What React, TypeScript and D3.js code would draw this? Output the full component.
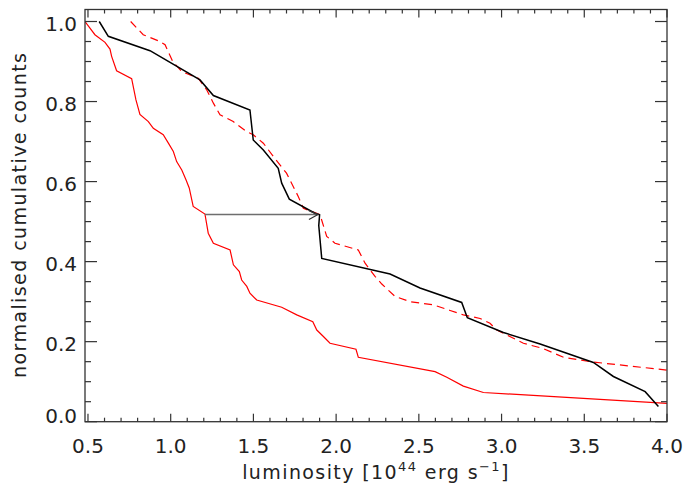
import React, { useEffect, useRef } from 'react'
import * as d3 from 'd3'

// [luminosity, normalised cumulative count]
const redSolid: [number, number][] = [
    [0.482, 1.0], [0.542, 0.967], [0.603, 0.948], [0.633, 0.931], [0.643, 0.913],
    [0.673, 0.877], [0.764, 0.857], [0.79, 0.804], [0.814, 0.768], [0.865, 0.75],
    [0.895, 0.733], [0.955, 0.717], [0.986, 0.696], [1.016, 0.675], [1.036, 0.65],
    [1.067, 0.629], [1.093, 0.604], [1.112, 0.584], [1.136, 0.538], [1.207, 0.519],
    [1.227, 0.471], [1.258, 0.446], [1.359, 0.429], [1.379, 0.392], [1.415, 0.375],
    [1.429, 0.354], [1.46, 0.338], [1.479, 0.321], [1.52, 0.304], [1.671, 0.286],
    [1.762, 0.267], [1.859, 0.25], [1.883, 0.229], [1.923, 0.213], [1.963, 0.196],
    [2.12, 0.181], [2.134, 0.161], [2.598, 0.125], [2.669, 0.111], [2.769, 0.089],
    [2.89, 0.073], [4.0, 0.046]
]

const redDashed: [number, number][] = [
    [0.758, 1.0], [0.834, 0.967], [0.935, 0.95], [0.966, 0.942], [1.012, 0.9],
    [1.067, 0.875], [1.167, 0.858], [1.218, 0.829], [1.258, 0.796], [1.298, 0.767],
    [1.378, 0.75], [1.459, 0.725], [1.499, 0.717], [1.56, 0.696], [1.62, 0.663],
    [1.7, 0.621], [1.771, 0.563], [1.802, 0.533], [1.883, 0.521], [1.903, 0.517],
    [1.943, 0.463], [1.993, 0.446], [2.134, 0.429], [2.175, 0.396], [2.235, 0.363],
    [2.276, 0.344], [2.356, 0.313], [2.447, 0.3], [2.588, 0.292], [2.689, 0.278],
    [2.769, 0.267], [2.87, 0.258], [2.93, 0.246], [2.971, 0.229], [3.031, 0.217],
    [3.132, 0.196], [3.25, 0.183], [3.374, 0.161], [3.535, 0.15], [3.777, 0.139],
    [4.0, 0.129]
]

const blackSolid: [number, number][] = [
    [0.568, 1.0], [0.623, 0.963], [0.875, 0.927], [1.177, 0.854], [1.258, 0.815],
    [1.479, 0.779], [1.499, 0.704], [1.56, 0.679], [1.65, 0.633], [1.671, 0.596],
    [1.717, 0.556], [1.872, 0.521], [1.9, 0.517], [1.895, 0.49], [1.913, 0.408],
    [2.326, 0.369], [2.507, 0.334], [2.759, 0.298], [2.793, 0.26], [3.011, 0.223],
    [3.233, 0.194], [3.555, 0.148], [3.676, 0.113], [3.868, 0.075], [3.948, 0.038]
]

const arrow: [number, number][] = [[1.207, 0.5175], [1.89, 0.5175]]

const xMajor = [0.5, 1.0, 1.5, 2.0, 2.5, 3.0, 3.5, 4.0]
const yMajor = [0.0, 0.2, 0.4, 0.6, 0.8, 1.0]

export default function App() {
    const ref = useRef<SVGSVGElement>(null)

    useEffect(() => {
        const svg = d3.select(ref.current)
        svg.selectAll("*").remove()

        const left = 85, right = 667, top = 9.5, bottom = 421.7
        const x = d3.scaleLinear().domain([0.482, 4.0]).range([left, right])
        const y = d3.scaleLinear().domain([0, 1.03]).range([bottom, top])
        const font = "DejaVu Sans, sans-serif"
        const axisCol = "#333"

        svg.append("defs").append("clipPath").attr("id", "plotClip")
            .append("rect").attr("x", left).attr("y", top)
            .attr("width", right - left).attr("height", bottom - top)

        const line = d3.line<[number, number]>().x(d => x(d[0])).y(d => y(d[1]))
        const g = svg.append("g").attr("clip-path", "url(#plotClip)")

        g.append("path").attr("d", line(redSolid)).attr("fill", "none")
            .attr("stroke", "#ff0000").attr("stroke-width", 1.2)
        g.append("path").attr("d", line(redDashed)).attr("fill", "none")
            .attr("stroke", "#ff0000").attr("stroke-width", 1.2).attr("stroke-dasharray", "8,5")
        g.append("path").attr("d", line(blackSolid)).attr("fill", "none")
            .attr("stroke", "#000").attr("stroke-width", 1.5)

        // arrow
        const ax1 = x(arrow[1][0]), ay1 = y(arrow[1][1])
        g.append("path").attr("d", line(arrow)).attr("fill", "none")
            .attr("stroke", "#6e6e6e").attr("stroke-width", 1.5)
        g.append("path")
            .attr("d", `M${ax1 - 9},${ay1 - 4} L${ax1},${ay1} L${ax1 - 9},${ay1 + 5}`)
            .attr("fill", "none").attr("stroke", "#333").attr("stroke-width", 1.2)

        // frame
        svg.append("rect").attr("x", left).attr("y", top)
            .attr("width", right - left).attr("height", bottom - top)
            .attr("fill", "none").attr("stroke", axisCol).attr("stroke-width", 1.3)

        // ticks
        const xMinor = d3.range(5, 41).map(v => v / 10)
        const yMinor = d3.range(0, 21).map(v => v / 20)
        const ticks = svg.append("g").attr("stroke", axisCol).attr("stroke-width", 1.2)
        xMinor.forEach(v => {
            const major = xMajor.some(m => Math.abs(m - v) < 1e-6)
            const len = major ? 8 : 4
            ticks.append("line").attr("x1", x(v)).attr("x2", x(v)).attr("y1", bottom).attr("y2", bottom - len)
            ticks.append("line").attr("x1", x(v)).attr("x2", x(v)).attr("y1", top).attr("y2", top + len)
        })
        yMinor.forEach(v => {
            const major = yMajor.some(m => Math.abs(m - v) < 1e-6)
            const len = major ? 12 : 6
            ticks.append("line").attr("x1", left).attr("x2", left + len).attr("y1", y(v)).attr("y2", y(v))
            ticks.append("line").attr("x1", right).attr("x2", right - len).attr("y1", y(v)).attr("y2", y(v))
        })

        // tick labels
        xMajor.forEach(v => {
            svg.append("text").attr("x", x(v)).attr("y", 453)
                .attr("text-anchor", "middle").style("font", `20px ${font}`)
                .attr("fill", "#222").text(v.toFixed(1))
        })
        yMajor.forEach(v => {
            svg.append("text").attr("x", 77).attr("y", v === 0 ? y(v) + 1 : y(v) + 9)
                .attr("text-anchor", "end").style("font", `20px ${font}`)
                .attr("fill", "#222").text(v.toFixed(1))
        })

        // axis titles
        const xt = svg.append("text").attr("x", (left + right) / 2).attr("y", 479)
            .attr("text-anchor", "middle").style("font", `19px ${font}`)
            .style("letter-spacing", "1.4px").attr("fill", "#222")
        xt.append("tspan").text("luminosity [10")
        xt.append("tspan").attr("dy", -8).style("font-size", "13px").text("44")
        xt.append("tspan").attr("dy", 8).text(" erg s")
        xt.append("tspan").attr("dy", -8).style("font-size", "13px").text("\u22121")
        xt.append("tspan").attr("dy", 8).text("]")

        svg.append("text")
            .attr("transform", `translate(26, 215.5) rotate(-90)`)
            .attr("text-anchor", "middle").style("font", `19px ${font}`).attr("fill", "#222")
            .attr("textLength", 325).attr("lengthAdjust", "spacing")
            .text("normalised cumulative counts")
    }, [])

    return (
        <svg ref={ref} width={685} height={485}
            style={{ position: "absolute", left: 0, top: 0, background: "#fff" }} />
    )
}
